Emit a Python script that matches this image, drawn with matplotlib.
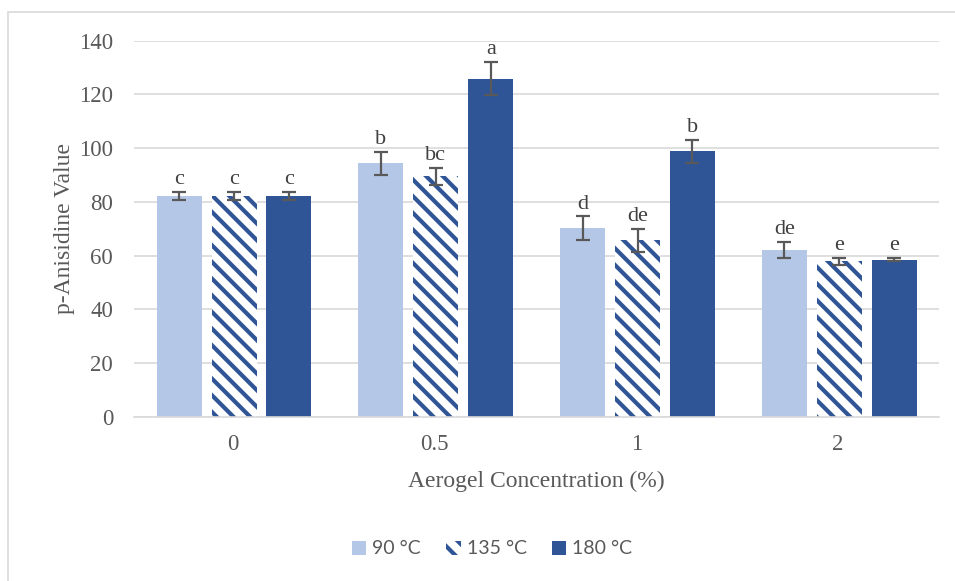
import matplotlib.pyplot as plt
import numpy as np
from matplotlib.patches import Rectangle

plt.rcParams['hatch.linewidth'] = 3.0

concentrations = ['0', '0.5', '1', '2']
temps = ['90 °C', '135 °C', '180 °C']
values = {
    '90 °C': [82.2, 94.3, 70.2, 62.0],
    '135 °C': [82.2, 89.5, 65.7, 57.9],
    '180 °C': [82.2, 125.9, 98.8, 58.5],
}
errors = {
    '90 °C': [1.5, 4.3, 4.4, 3.0],
    '135 °C': [1.5, 3.3, 4.4, 1.3],
    '180 °C': [1.5, 6.3, 4.4, 0.6],
}
letters = {
    '90 °C': ['c', 'b', 'd', 'de'],
    '135 °C': ['c', 'bc', 'de', 'e'],
    '180 °C': ['c', 'a', 'b', 'e'],
}

light = '#B4C7E7'
dark = '#2F5597'
grey = '#595959'
serif = 'Liberation Serif'

fig = plt.figure(figsize=(9.55, 5.81), dpi=100)
ax = fig.add_axes([0.1403, 0.2823, 0.843, 0.6478])

# outer chart border
fig.patches.append(Rectangle((8 / 955, -0.1), 1.2, (581 - 12) / 581 + 0.1,
                             transform=fig.transFigure, fill=False,
                             edgecolor='#D9D9D9', linewidth=1.2))

x = np.arange(len(concentrations))
w = 0.223
step = 0.272
styles = [
    dict(color=light),
    dict(facecolor='white', edgecolor=dark, hatch='\\\\', linewidth=0),
    dict(color=dark),
]

for i, t in enumerate(temps):
    pos = x + (i - 1) * step + 0.006
    ax.bar(pos, values[t], w, label=t, zorder=2, **styles[i])
    ax.errorbar(pos, values[t], yerr=errors[t], fmt='none', ecolor=grey,
                elinewidth=1.6, capsize=5, capthick=1.6, zorder=3)
    for p, v, e, l in zip(pos, values[t], errors[t], letters[t]):
        ax.annotate(l, (p, v + e), xytext=(0, 2), textcoords='offset points',
                    ha='center', va='bottom', fontsize=16,
                    family=serif, color='#404040')

ax.set_ylim(0, 140)
ax.set_yticks(range(0, 141, 20))
ax.set_xlim(-0.49, 3.50)
ax.set_xticks(x)
ax.set_xticklabels(concentrations)
ax.grid(axis='y', color='#D9D9D9', linewidth=1.2, zorder=0)
ax.set_axisbelow(True)
for s in ['top', 'right', 'left']:
    ax.spines[s].set_visible(False)
ax.spines['bottom'].set_color('#D9D9D9')
ax.spines['bottom'].set_linewidth(1.2)
ax.tick_params(length=0, labelsize=16.5, labelcolor=grey)
ax.tick_params(axis='x', pad=12)
ax.tick_params(axis='y', pad=15)
for lab in ax.get_xticklabels() + ax.get_yticklabels():
    lab.set_family(serif)

ax.set_ylabel('p-Anisidine Value', fontsize=17, family=serif, color=grey)
ax.set_xlabel('Aerogel Concentration (%)', fontsize=17, family=serif, color=grey)
ax.yaxis.set_label_coords(-0.0857, 0.5)
ax.yaxis.label.set_va('center')
ax.xaxis.set_label_coords(0.5, -0.172)
ax.xaxis.label.set_va('center')

leg = fig.legend(loc='center', bbox_to_anchor=(492 / 955, 1 - 549 / 581), ncol=3,
                 frameon=False, handlelength=0.75, handleheight=0.75,
                 handletextpad=0.3, columnspacing=1.3,
                 prop={'family': 'Lato', 'size': 14})
for txt in leg.get_texts():
    txt.set_color(grey)

fig.savefig('out.png', dpi=100)
